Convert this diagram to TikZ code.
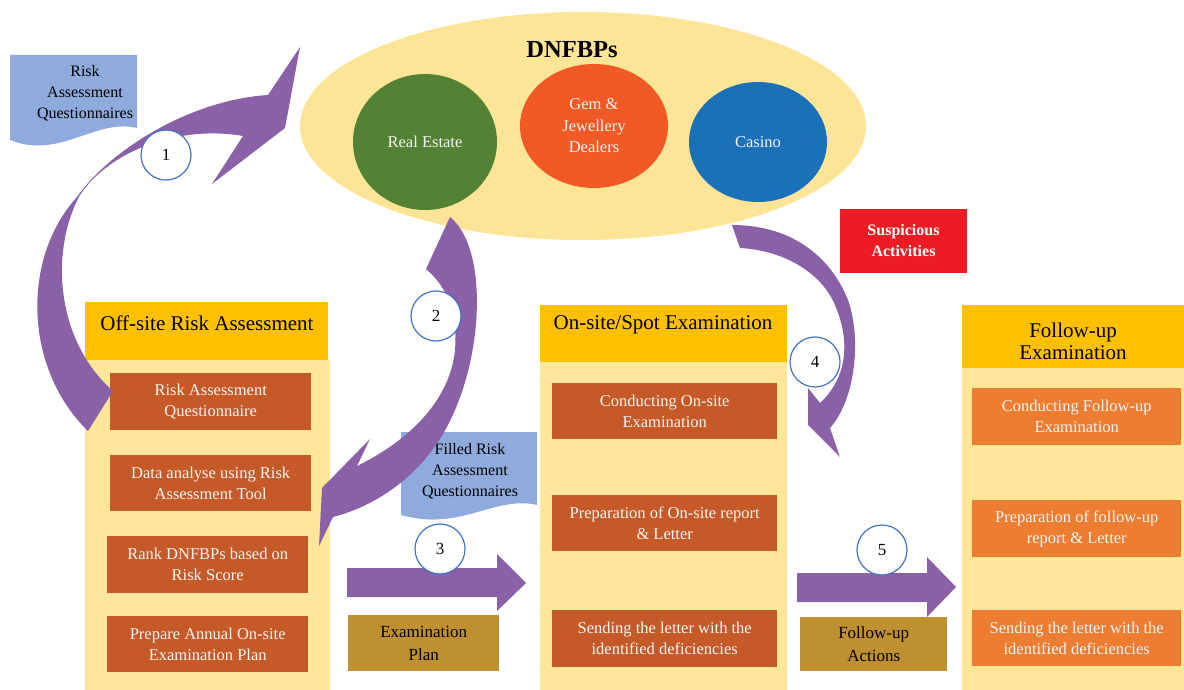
\documentclass[tikz,border=0pt]{standalone}
\usepackage{fontspec}
\setmainfont{Liberation Serif}
\usetikzlibrary{shapes.geometric}
\definecolor{panel}{HTML}{FFE699}
\definecolor{hdrc}{HTML}{FFC000}
\definecolor{itemc}{RGB}{197,90,40}
\definecolor{itemf}{HTML}{ED7D31}
\definecolor{planc}{RGB}{191,144,48}
\definecolor{ellc}{HTML}{FDE598}
\definecolor{greenc}{HTML}{548235}
\definecolor{gemc}{HTML}{F15A24}
\definecolor{casc}{RGB}{27,113,184}
\definecolor{docc}{HTML}{8FAADC}
\definecolor{purp}{RGB}{138,96,167}
\definecolor{redc}{HTML}{ED1C24}
\definecolor{circb}{HTML}{4472C4}
\definecolor{itxt}{HTML}{F4F4F4}
\begin{document}
\begin{tikzpicture}[x=1pt,y=-1pt,
  boxnode/.style={draw=none,inner sep=0pt,anchor=north west},
  itembox/.style={boxnode,fill=itemc,text=itxt,align=center,font=\fontsize{16.5}{21}\selectfont},
  itemfbox/.style={boxnode,fill=itemf,text=itxt,align=center,font=\fontsize{16.5}{21}\selectfont},
  planbox/.style={boxnode,fill=planc,text=black,align=center,font=\fontsize{17}{23}\selectfont},
  hdrtext/.style={inner sep=0pt,align=center,font=\fontsize{21}{23}\selectfont},
  numc/.style={circle,draw=circb,line width=1.2pt,fill=white,minimum size=50pt,inner sep=0pt,font=\fontsize{17}{20}\selectfont},
  doctext/.style={inner sep=0pt,align=center,font=\fontsize{16}{21}\selectfont},
  circtext/.style={inner sep=0pt,align=center,text=itxt,font=\fontsize{16.5}{21.5}\selectfont},
  arrowfill/.style={fill=purp,draw=none}]
\useasboundingbox (0,0) rectangle (1184,690);

% DNFBPs ellipse
\node[ellipse,fill=ellc,minimum width=566pt,minimum height=228pt,inner sep=0pt] (dnf) at (583,126) {};
\node[inner sep=0pt,font=\bfseries\fontsize{24.5}{26}\selectfont] (dnflbl) at (572,50) {DNFBPs};
\node[ellipse,fill=greenc,minimum width=144pt,minimum height=136pt,inner sep=0pt] (re) at (425,142) {};
\node[circtext] (retxt) at (425,142) {Real Estate};
\node[ellipse,fill=gemc,minimum width=148pt,minimum height=124pt,inner sep=0pt] (gem) at (594,126) {};
\node[circtext] (gemtxt) at (594,126) {Gem \&\\Jewellery\\Dealers};
\node[ellipse,fill=casc,minimum width=138pt,minimum height=120pt,inner sep=0pt] (cas) at (758,142) {};
\node[circtext] (castxt) at (758,142) {Casino};

% Risk Assessment Questionnaires document
\fill[docc] (10,55) -- (137,55) -- (137,128) .. controls (95,118) and (60,160) .. (10,140) -- cycle;
\node[doctext] (rq) at (85,93) {Risk\\Assessment\\Questionnaires};

% Suspicious Activities
\node[boxnode,fill=redc,minimum width=127pt,minimum height=64pt] (sus) at (840,209) {};
\node[inner sep=0pt,align=center,text=white,font=\bfseries\fontsize{16}{21}\selectfont] (sustxt) at (903.5,241) {Suspicious\\Activities};

% Column panels
\node[boxnode,fill=panel,minimum width=245pt,minimum height=330pt] (p1) at (85,360) {};
\node[boxnode,fill=hdrc,minimum width=243pt,minimum height=58pt] (h1) at (85,302) {};
\node[hdrtext] (h1t) at (207,323) {Off-site Risk Assessment};

\node[boxnode,fill=panel,minimum width=247pt,minimum height=328pt] (p2) at (540,362) {};
\node[boxnode,fill=hdrc,minimum width=247pt,minimum height=57pt] (h2) at (540,305) {};
\node[hdrtext] (h2t) at (663,325) {On-site/Spot Examination};

\node[boxnode,fill=panel,minimum width=222pt,minimum height=322pt] (p3) at (962,368) {};
\node[boxnode,fill=hdrc,minimum width=222pt,minimum height=63pt] (h3) at (962,305) {};
\node[hdrtext,font=\fontsize{21}{22}\selectfont] (h3t) at (1073,341) {Follow-up\\Examination};

% Off-site items
\node[itembox,minimum width=201pt,minimum height=57pt] (o1) at (110,373) {Risk Assessment\\Questionnaire};
\node[itembox,minimum width=201pt,minimum height=56pt] (o2) at (110,455) {Data analyse using Risk\\Assessment Tool};
\node[itembox,minimum width=201pt,minimum height=57pt] (o3) at (107,536) {Rank DNFBPs based on\\Risk Score};
\node[itembox,minimum width=201pt,minimum height=56pt] (o4) at (107,616) {Prepare Annual On-site\\Examination Plan};

% On-site items
\node[itembox,minimum width=225pt,minimum height=56pt] (s1) at (552,383) {Conducting On-site\\Examination};
\node[itembox,minimum width=225pt,minimum height=56pt] (s2) at (552,495) {Preparation of On-site report\\\& Letter};
\node[itembox,minimum width=225pt,minimum height=57pt] (s3) at (552,610) {Sending the letter with the\\identified deficiencies};

% Follow-up items
\node[itemfbox,minimum width=209pt,minimum height=57pt] (f1) at (972,388) {Conducting Follow-up\\Examination};
\node[itemfbox,minimum width=209pt,minimum height=57pt] (f2) at (972,500) {Preparation of follow-up\\report \& Letter};
\node[itemfbox,minimum width=209pt,minimum height=56pt] (f3) at (972,610) {Sending the letter with the\\identified deficiencies};

% Filled Risk Assessment Questionnaires document
\fill[docc] (401,432) -- (537,432) -- (537,505) .. controls (495,495) and (460,532) .. (401,515) -- cycle;
\node[doctext] (frq) at (470,471) {Filled Risk\\Assessment\\Questionnaires};

% Examination Plan / Follow-up Actions
\node[planbox,minimum width=151pt,minimum height=56pt] (ep) at (348,615) {Examination\\Plan};
\node[planbox,minimum width=147pt,minimum height=54pt] (fa) at (800,617) {Follow-up\\Actions};

% Curved arrow 1
\path[arrowfill] (88,431) .. controls (25,370) and (20,260) .. (77,197)
  .. controls (110,150) and (190,100) .. (268,95)
  -- (300,47) -- (285,128) -- (212,184) -- (243,136)
  .. controls (180,125) and (110,150) .. (80,195)
  .. controls (50,250) and (55,340) .. (113,391) -- cycle;

% Curved arrow 2
\path[arrowfill] (450,217) .. controls (485,245) and (485,340) .. (455,410)
  .. controls (430,470) and (380,505) .. (333,517)
  -- (319,546) -- (322,488) -- (370,439) -- (357,466)
  .. controls (410,440) and (450,400) .. (455,350)
  .. controls (458,310) and (445,285) .. (426,269) -- cycle;

% Curved arrow 4
\path[arrowfill] (732,225) -- (740,248)
  .. controls (780,250) and (820,270) .. (835,305)
  .. controls (852,345) and (845,380) .. (820,403)
  -- (808,388) -- (808,425) -- (840,457) -- (830,428)
  .. controls (855,400) and (862,340) .. (848,300)
  .. controls (830,255) and (790,225) .. (732,225) -- cycle;

% Straight arrows
\path[arrowfill] (347,568) -- (497,568) -- (497,554) -- (526,583) -- (497,611) -- (497,597) -- (347,597) -- cycle;
\path[arrowfill] (797,573) -- (927,573) -- (927,557) -- (956,587) -- (927,617) -- (927,602) -- (797,602) -- cycle;

% Number circles
\node[numc] (n1) at (166,155) {1};
\node[numc] (n2) at (436,316) {2};
\node[numc] (n3) at (440,549) {3};
\node[numc] (n4) at (815,362) {4};
\node[numc] (n5) at (882,550) {5};
\end{tikzpicture}
\end{document}
